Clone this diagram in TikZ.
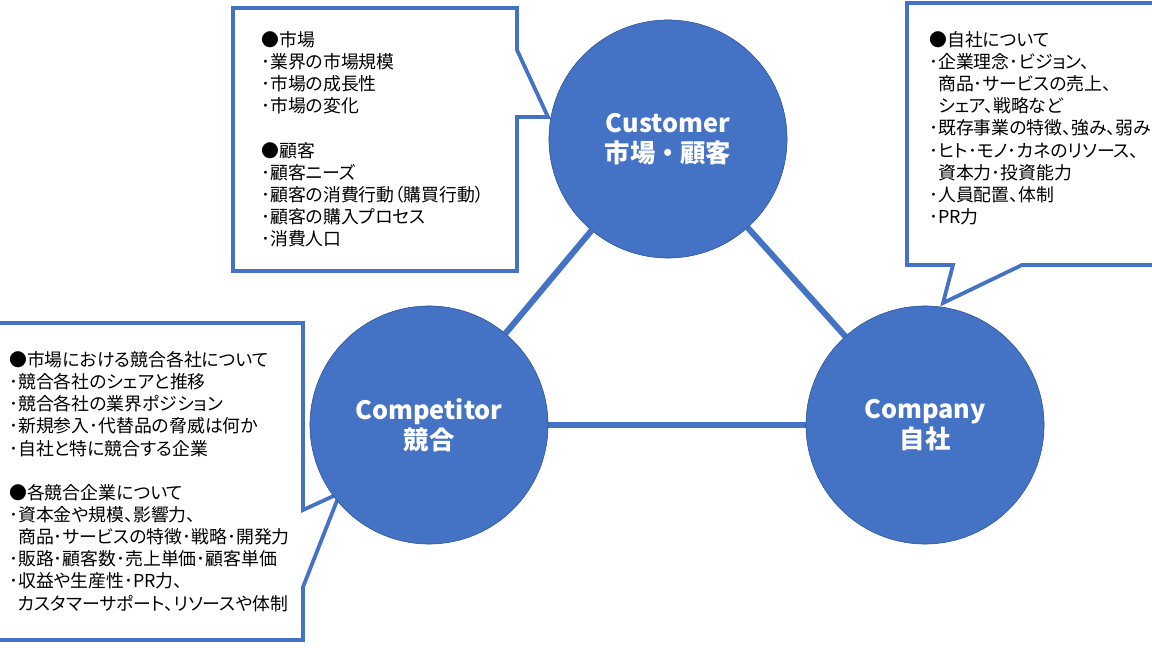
\documentclass[tikz,border=0pt]{standalone}
\usepackage{fontspec}
\newfontfamily\jpfont{Noto Sans CJK JP}
\newfontfamily\jpnotefont[RawFeature=+palt]{Noto Sans CJK JP}
\usetikzlibrary{backgrounds}
\definecolor{accent}{HTML}{4472C4}
\definecolor{accentdark}{HTML}{2F528F}

\begin{document}
\begin{tikzpicture}
[ x=0.025cm, y=-0.025cm,
circ/.style={circle, draw=accentdark, line width=0.4pt, fill=accent,
 minimum size=5.95cm, inner sep=0pt, text=white, align=center,
 font=\jpfont\bfseries\fontsize{18}{21.5}\selectfont},
link/.style={draw=accent, line width=4.3pt},
callout/.style={draw=accent, line width=2.7pt, fill=white, line join=miter},
note/.style={anchor=north west, inner sep=0pt, align=left,
 font=\jpnotefont\fontsize{12.7}{15.75}\selectfont},
]
\useasboundingbox (0,0) rectangle (1152,648);
\clip (0,0) rectangle (1152,648);

% callouts
\draw[callout] (233,8) -- (517,8) -- (517,50) -- (548,117) -- (517,117)
 -- (517,271) -- (233,271) -- cycle;
\draw[callout] (907,3) -- (1170,3) -- (1170,265) -- (1022,265) -- (943,303)
 -- (953,265) -- (907,265) -- cycle;
\draw[callout] (-10,323) -- (303,323) -- (303,510) -- (340,493) -- (303,587)
 -- (303,640) -- (-10,640) -- cycle;

\node[note] (market) at (261,31) {●市場\\･業界の市場規模\\･市場の成長性\\･市場の変化\\[15.75pt]
●顧客\\･顧客ニーズ\\･顧客の消費行動（購買行動）\\･顧客の購入プロセス\\･消費人口};
\node[note] (self) at (929,31) {●自社について\\･企業理念･ビジョン、\\\phantom{･}商品･サービスの売上、\\
\phantom{･}シェア、戦略など\\･既存事業の特徴、強み、弱み\\･ヒト･モノ･カネのリソース、\\
\phantom{･}資本力･投資能力\\･人員配置、体制\\･PR力};
\node[note] (rivals) at (9,351) {●市場における競合各社について\\･競合各社のシェアと推移\\
･競合各社の業界ポジション\\･新規参入･代替品の脅威は何か\\･自社と特に競合する企業\\[15.75pt]
●各競合企業について\\･資本金や規模、影響力、\\\phantom{･}商品･サービスの特徴･戦略･開発力\\
･販路･顧客数･売上単価･顧客単価\\･収益や生産性･PR力、\\\phantom{･}カスタマーサポート、リソースや体制};

% circles
\node[circ] (customer) at (668,139) {Customer\\市場・顧客};
\node[circ] (competitor) at (429,425) {Competitor\\競合};
\node[circ] (company) at (925,425) {Company\\自社};

\begin{scope}[on background layer]
\draw[link] (customer) -- (competitor);
\draw[link] (customer) -- (company);
\draw[link] (competitor) -- (company);
\end{scope}
\end{tikzpicture}
\end{document}
